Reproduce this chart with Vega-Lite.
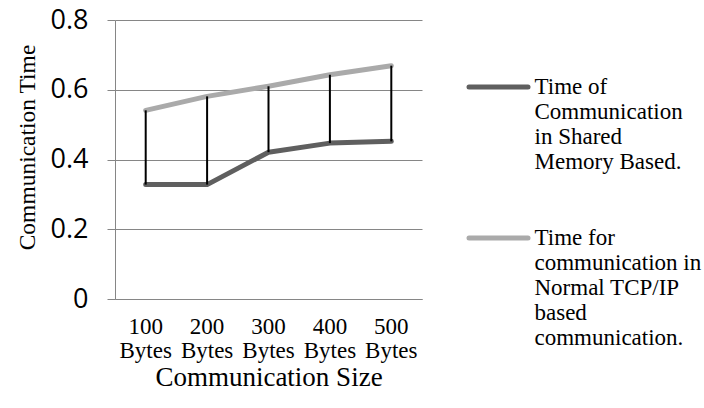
{
  "$schema": "https://vega.github.io/schema/vega-lite/v6.json",
  "width": 307,
  "height": 279,
  "autosize": {"type": "none"},
  "padding": {"left": 115, "top": 20, "right": 282, "bottom": 109},
  "background": "white",
  "config": {
    "view": {"stroke": null},
    "axis": {"labelColor": "black", "titleColor": "black", "titleFontWeight": "normal"}
  },
  "data": {
    "values": [
      {"size": "100 Bytes", "series": "Time of Communication in Shared Memory Based.", "value": 0.328},
      {"size": "200 Bytes", "series": "Time of Communication in Shared Memory Based.", "value": 0.328},
      {"size": "300 Bytes", "series": "Time of Communication in Shared Memory Based.", "value": 0.421},
      {"size": "400 Bytes", "series": "Time of Communication in Shared Memory Based.", "value": 0.447},
      {"size": "500 Bytes", "series": "Time of Communication in Shared Memory Based.", "value": 0.452},
      {"size": "100 Bytes", "series": "Time for communication in Normal TCP/IP based communication.", "value": 0.541},
      {"size": "200 Bytes", "series": "Time for communication in Normal TCP/IP based communication.", "value": 0.581},
      {"size": "300 Bytes", "series": "Time for communication in Normal TCP/IP based communication.", "value": 0.610},
      {"size": "400 Bytes", "series": "Time for communication in Normal TCP/IP based communication.", "value": 0.643},
      {"size": "500 Bytes", "series": "Time for communication in Normal TCP/IP based communication.", "value": 0.669}
    ]
  },
  "layer": [
    {
      "mark": {"type": "line", "strokeWidth": 5, "strokeCap": "round", "strokeJoin": "round"},
      "encoding": {
        "x": {
          "field": "size", "type": "nominal", "sort": null,
          "scale": {"paddingInner": 0, "paddingOuter": 0},
          "axis": {
            "title": "Communication Size",
            "titleFont": "Liberation Serif", "titleFontSize": 27, "titlePadding": 2,
            "labelFont": "Liberation Serif", "labelFontSize": 23, "labelLineHeight": 24,
            "labelExpr": "split(datum.label, ' ')",
            "labelAngle": 0, "labelPadding": 16, "labelBaseline": "top",
            "ticks": false, "domain": true, "domainColor": "#868686", "domainWidth": 1
          }
        },
        "y": {
          "field": "value", "type": "quantitative",
          "scale": {"domain": [0, 0.8], "nice": false},
          "axis": {
            "values": [0, 0.2, 0.4, 0.6, 0.8], "format": "~g",
            "title": "Communication Time",
            "titleFont": "Liberation Serif", "titleFontSize": 23.5, "titlePadding": 11,
            "titleY": 127,
            "labelFont": "Open Sans", "labelFontSize": 27, "labelPadding": 19,
            "grid": true, "gridColor": "#868686", "gridWidth": 1,
            "ticks": true, "tickSize": 8, "tickColor": "#868686", "tickWidth": 1,
            "domain": true, "domainColor": "#868686", "domainWidth": 1
          }
        },
        "color": {
          "field": "series", "type": "nominal",
          "scale": {
            "domain": ["Time of Communication in Shared Memory Based.", "Time for communication in Normal TCP/IP based communication."],
            "range": ["#5f5f5f", "#aaaaaa"]
          },
          "legend": {
            "title": null,
            "orient": "none", "legendX": 351.5, "legendY": 35,
            "symbolType": "stroke", "symbolSize": 3481, "symbolStrokeWidth": 5,
            "labelFont": "Liberation Serif", "labelFontSize": 23, "labelLineHeight": 24,
            "labelColor": "black", "labelLimit": 300, "labelOffset": 4,
            "labelBaseline": "alphabetic",
            "rowPadding": 32,
            "labelExpr": "datum.label == 'Time of Communication in Shared Memory Based.' ? ['Time of', 'Communication', 'in Shared', 'Memory Based.'] : ['Time for', 'communication in', 'Normal TCP/IP', 'based', 'communication.']",
            "encode": {
              "labels": {"update": {"dy": {"value": 7}}},
              "symbols": {"update": {"strokeCap": {"value": "round"}}}
            }
          }
        }
      }
    },
    {
      "mark": {"type": "rule", "color": "black", "strokeWidth": 2},
      "encoding": {
        "x": {"field": "size", "type": "nominal", "sort": null},
        "y": {"aggregate": "min", "field": "value", "type": "quantitative"},
        "y2": {"aggregate": "max", "field": "value"}
      }
    }
  ]
}
